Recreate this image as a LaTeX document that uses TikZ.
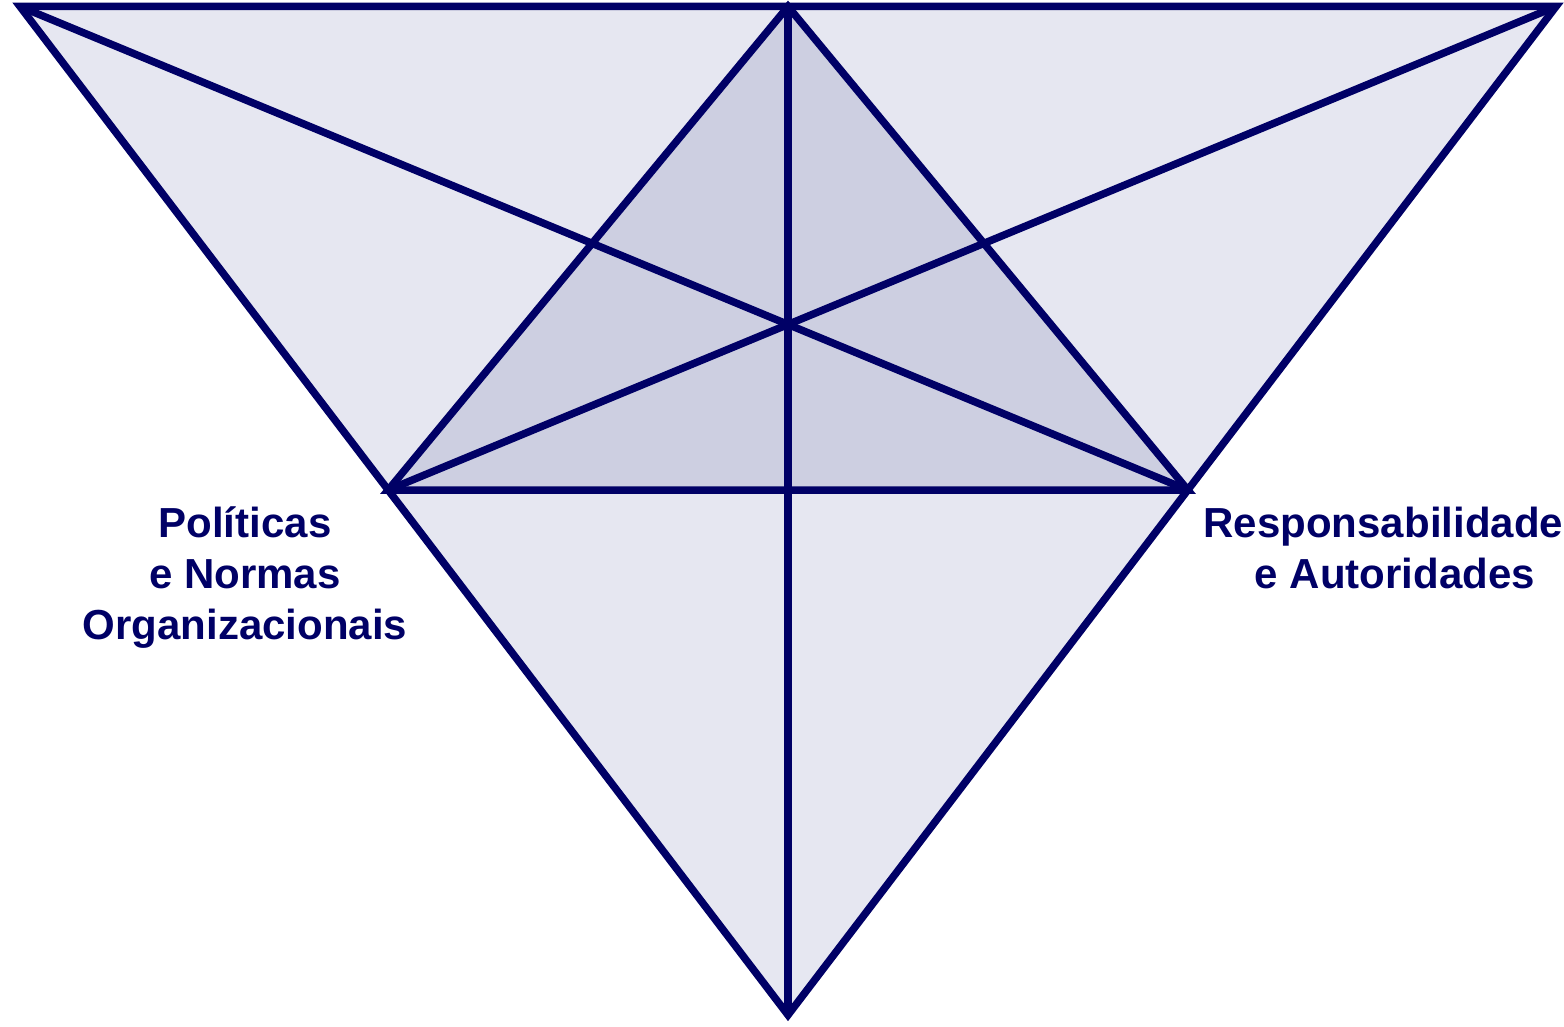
\documentclass[tikz,border=0pt]{standalone}
\usepackage{fontspec}
\setmainfont{Liberation Sans}
\definecolor{navy}{HTML}{000066}
\definecolor{outerfill}{HTML}{E6E7F1}
\definecolor{innerfill}{HTML}{CDCFE1}
\begin{document}
\begin{tikzpicture}[x=1pt,y=-1pt,
  edge/.style={draw=navy,line width=7.5pt,line join=miter},
  label/.style={text=navy,font=\fontsize{42}{51}\selectfont\bfseries,align=center,inner sep=0pt,anchor=base}]
\useasboundingbox (0,0) rectangle (1564,1027);
\coordinate (A) at (20,6.5);
\coordinate (B) at (1556,6.5);
\coordinate (C) at (788,1015);
\coordinate (D) at (788,6.5);
\coordinate (E) at (388.2,490);
\coordinate (F) at (1187.8,490);
\fill[outerfill] (A) -- (B) -- (C) -- cycle;
\fill[innerfill] (D) -- (E) -- (F) -- cycle;
\draw[edge] (A) -- (B) -- (C) -- cycle;
\draw[edge] (D) -- (E) -- (F) -- cycle;
\draw[edge] (A) -- (F);
\draw[edge] (B) -- (E);
\draw[edge] (D) -- (C);
\node[label] (pol) at (245,639) {Políticas\\e Normas\\Organizacionais};
\node[label] (resp) at (1395,588) {Responsabilidades\\e Autoridades};
\end{tikzpicture}
\end{document}
